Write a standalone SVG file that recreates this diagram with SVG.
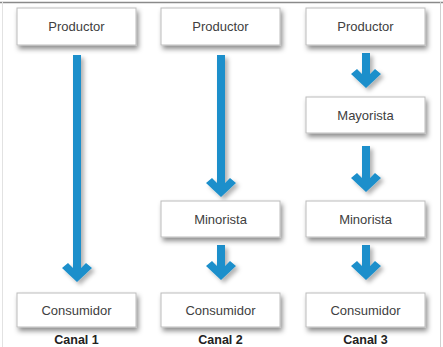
<svg xmlns="http://www.w3.org/2000/svg" width="443" height="347" viewBox="0 0 443 347">
<defs>
<filter id="sh" x="-20%" y="-30%" width="150%" height="190%">
<feDropShadow dx="2" dy="3.5" stdDeviation="2.5" flood-color="#000" flood-opacity="0.45"/>
</filter>
<filter id="ash" x="-60%" y="-10%" width="220%" height="130%">
<feDropShadow dx="3" dy="3" stdDeviation="2" flood-color="#000" flood-opacity="0.3"/>
</filter>
<style>
.box{fill:#fff;stroke:#bcbcbc;stroke-width:1;filter:url(#sh)}
.lbl{font-family:"Liberation Sans",Arial,sans-serif;font-size:13px;fill:#404040;text-anchor:middle}
.can{font-family:"Liberation Sans",Arial,sans-serif;font-size:12.5px;font-weight:bold;fill:#222;text-anchor:middle}
.arr{fill:#1b8fcb;filter:url(#ash)}
</style>
</defs>
<rect x="0" y="0" width="443" height="347" fill="#fff"/>
<line x1="0" y1="2.5" x2="443" y2="2.5" stroke="#8a8a8a" stroke-width="1.5"/>
<line x1="440.5" y1="2" x2="440.5" y2="347" stroke="#d0d0d0" stroke-width="1"/>
<line x1="2.5" y1="2" x2="2.5" y2="347" stroke="#e2e2e2" stroke-width="1"/>

<g id="connectors">
<path class="arr" d="M73,55 H81 V268 L86,263 L92,268 L77,282 L62,268 L68,263 L73,268 Z"/>
<path class="arr" d="M217,55 H225 V183 L230,178 L236,183 L221,197 L206,183 L212,178 L217,183 Z"/>
<path class="arr" d="M217,245 H225 V266 L230,261 L236,266 L221,280 L206,266 L212,261 L217,266 Z"/>
<path class="arr" d="M362,53 H370 V74 L375,69 L381,74 L366,88 L351,74 L357,69 L362,74 Z"/>
<path class="arr" d="M362,146 H370 V178 L375,173 L381,178 L366,192 L351,178 L357,173 L362,178 Z"/>
<path class="arr" d="M362,245 H370 V266 L375,261 L381,266 L366,280 L351,266 L357,261 L362,266 Z"/>
</g>

<g id="c1-productor"><rect class="box" x="17" y="8" width="119" height="37"/><text class="lbl" x="76.5" y="31">Productor</text></g>
<g id="c1-consumidor"><rect class="box" x="17" y="293" width="119" height="34"/><text class="lbl" x="76.5" y="315">Consumidor</text></g>
<g id="canal1"><text class="can" x="76.5" y="344">Canal 1</text></g>

<g id="c2-productor"><rect class="box" x="161" y="8" width="119" height="37"/><text class="lbl" x="220.5" y="31">Productor</text></g>
<g id="c2-minorista"><rect class="box" x="161" y="201" width="119" height="36"/><text class="lbl" x="220.5" y="223.5">Minorista</text></g>
<g id="c2-consumidor"><rect class="box" x="161" y="293" width="119" height="34"/><text class="lbl" x="220.5" y="315">Consumidor</text></g>
<g id="canal2"><text class="can" x="220.5" y="344">Canal 2</text></g>

<g id="c3-productor"><rect class="box" x="306" y="8" width="119" height="37"/><text class="lbl" x="365.5" y="31">Productor</text></g>
<g id="c3-mayorista"><rect class="box" x="306" y="97" width="119" height="36"/><text class="lbl" x="365.5" y="119.5">Mayorista</text></g>
<g id="c3-minorista"><rect class="box" x="306" y="201" width="119" height="36"/><text class="lbl" x="365.5" y="223.5">Minorista</text></g>
<g id="c3-consumidor"><rect class="box" x="306" y="293" width="119" height="34"/><text class="lbl" x="365.5" y="315">Consumidor</text></g>
<g id="canal3"><text class="can" x="365.5" y="344">Canal 3</text></g>
</svg>
